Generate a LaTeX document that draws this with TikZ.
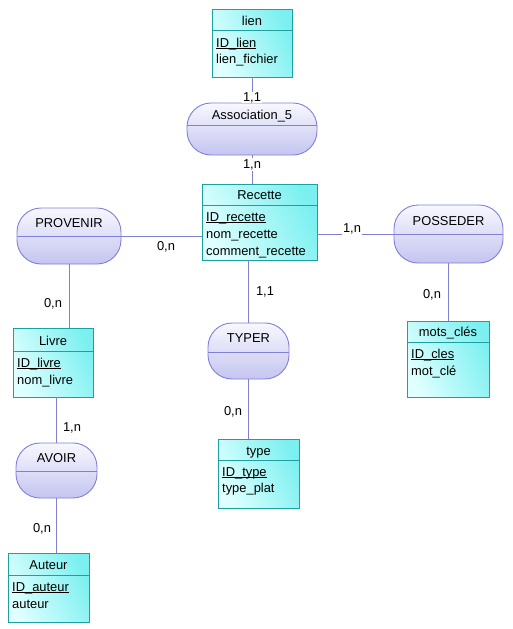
\documentclass[tikz,border=0pt]{standalone}
\usepackage{fontspec}
\setmainfont{Liberation Sans}
\newcommand{\uln}[1]{\setbox0\hbox{#1}\rlap{\rule[-1.9pt]{\wd0}{0.75pt}}\box0}
\begin{document}
\begin{tikzpicture}[x=1pt,y=-1pt,
  font=\fontsize{12.9}{15}\selectfont,
  entbox/.style={draw=entline, line width=0.9pt, inner sep=0pt, outer sep=0pt, anchor=north west,
     shading=axis, left color=entA, right color=entB, shading angle=115},
  assoc/.style={draw=asline, line width=0.9pt, inner sep=0pt, outer sep=0pt, anchor=north west,
     rounded corners=24pt, top color=asA, bottom color=asB},
  entdiv/.style={draw=entline, line width=0.9pt},
  asdiv/.style={draw=asline, line width=0.9pt},
  link/.style={draw=lnk, line width=0.9pt},
  ttl/.style={inner sep=0pt, anchor=mid, yshift=-2.5pt},
  attr/.style={inner sep=0pt, anchor=mid west, yshift=-2.5pt},
  card/.style={inner sep=0pt, anchor=mid, yshift=-2.5pt},
  cardw/.style={card, fill=white, inner sep=1pt}
]
\definecolor{entline}{HTML}{1FA0A0}
\definecolor{entA}{HTML}{E0FFFF}
\definecolor{entB}{HTML}{7CF0F0}
\definecolor{asline}{HTML}{8080DC}
\definecolor{asA}{HTML}{F8F8FF}
\definecolor{asB}{HTML}{C4C4F0}
\definecolor{lnk}{HTML}{8080D0}
\useasboundingbox[fill=white] (0,0) rectangle (513,629);

% ---------- entities ----------
\node[entbox, minimum width=80pt, minimum height=68pt] (lien) at (212,9) {};
\draw[entdiv] (212,30) -- (292,30);
\node[ttl] (lienT) at (252,20) {lien};
\node[attr] (lienA1) at (216,42) {\uln{ID\_lien}};
\node[attr] (lienA2) at (216,58) {lien\_fichier};

\node[entbox, minimum width=115pt, minimum height=76pt] (rec) at (202,184) {};
\draw[entdiv] (202,205) -- (317,205);
\node[ttl] (recT) at (259.5,194) {Recette};
\node[attr] (recA1) at (206,216) {\uln{ID\_recette}};
\node[attr] (recA2) at (206,233) {nom\_recette};
\node[attr] (recA3) at (206,250) {comment\_recette};

\node[entbox, minimum width=80pt, minimum height=69pt] (livre) at (13,328) {};
\draw[entdiv] (13,351) -- (93,351);
\node[ttl] (livreT) at (53,340) {Livre};
\node[attr] (livreA1) at (17,362) {\uln{ID\_livre}};
\node[attr] (livreA2) at (17,379) {nom\_livre};

\node[entbox, minimum width=82pt, minimum height=76pt] (mots) at (407,321) {};
\draw[entdiv] (407,342) -- (489,342);
\node[ttl] (motsT) at (448,331) {mots\_clés};
\node[attr] (motsA1) at (411,353) {\uln{ID\_cles}};
\node[attr] (motsA2) at (411,370) {mot\_clé};

\node[entbox, minimum width=81pt, minimum height=69pt] (type) at (218,439) {};
\draw[entdiv] (218,460) -- (299,460);
\node[ttl] (typeT) at (258.5,450) {type};
\node[attr] (typeA1) at (222,471) {\uln{ID\_type}};
\node[attr] (typeA2) at (222,487) {type\_plat};

\node[entbox, minimum width=81pt, minimum height=69pt] (aut) at (8,553) {};
\draw[entdiv] (8,575) -- (89,575);
\node[ttl] (autT) at (48.5,564) {Auteur};
\node[attr] (autA1) at (12,586) {\uln{ID\_auteur}};
\node[attr] (autA2) at (12,603) {auteur};

% ---------- associations ----------
\node[assoc, minimum width=130pt, minimum height=52pt] (a5) at (187,103) {};
\draw[asdiv] (187,125) -- (317,125);
\node[ttl] (a5T) at (252,114) {Association\_5};

\node[assoc, minimum width=104pt, minimum height=56pt] (prov) at (17,208) {};
\draw[asdiv] (17,236) -- (121,236);
\node[ttl] (provT) at (69,222) {PROVENIR};

\node[assoc, minimum width=109pt, minimum height=58pt] (poss) at (394,205) {};
\draw[asdiv] (394,234) -- (503,234);
\node[ttl] (possT) at (448.5,220) {POSSEDER};

\node[assoc, minimum width=81pt, minimum height=56pt] (typer) at (208,323) {};
\draw[asdiv] (208,352) -- (289,352);
\node[ttl] (typerT) at (248.5,337) {TYPER};

\node[assoc, minimum width=81pt, minimum height=55pt] (avoir) at (16,443) {};
\draw[asdiv] (16,471) -- (97,471);
\node[ttl] (avoirT) at (56.5,457) {AVOIR};

% ---------- connectors ----------
\draw[link] (lien.south) -- (a5.north);
\draw[link] (a5.south) -- (a5.south |- rec.north);
\draw[link] (prov.east) -- (prov.east -| rec.west);
\draw[link] (poss.west) -- (poss.west -| rec.east);
\draw[link] (prov.south) -- (prov.south |- livre.north);
\draw[link] (poss.south) -- (poss.south |- mots.north);
\draw[link] (typer.north) -- (typer.north |- rec.south);
\draw[link] (typer.south) -- (typer.south |- type.north);
\draw[link] (avoir.north) -- (avoir.north |- livre.south);
\draw[link] (avoir.south) -- (avoir.south |- aut.north);

% ---------- cardinalities ----------
\node[cardw, inner ysep=0pt] (c1) at (252,96) {1,1};
\node[cardw] (c2) at (252,163) {1,n};
\node[card] (c3) at (166,245) {0,n};
\node[cardw] (c4) at (352,227) {1,n};
\node[card] (c5) at (53,302) {0,n};
\node[card] (c6) at (265,290) {1,1};
\node[card] (c7) at (233,410) {0,n};
\node[card] (c8) at (432,293) {0,n};
\node[card] (c9) at (72,426) {1,n};
\node[card] (c10) at (42,527) {0,n};
\end{tikzpicture}
\end{document}
